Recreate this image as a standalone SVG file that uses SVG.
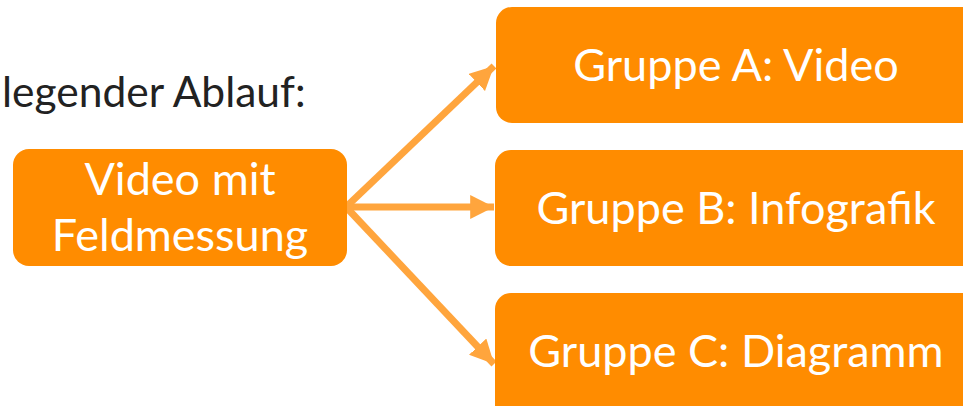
<svg xmlns="http://www.w3.org/2000/svg" width="963" height="406" viewBox="0 0 963 406">
<defs>
<style>
.box{fill:#FF8C00}
.t{font-family:Lato,"Noto Sans","Liberation Sans",sans-serif;font-size:45px;fill:#fff;text-anchor:middle}
.title{font-family:Lato,"Noto Sans","Liberation Sans",sans-serif;font-size:42.5px;fill:#222}
.c{stroke:#FFA53D;stroke-width:7;fill:none}
</style>
<marker id="ah" viewBox="0 0 10 10" refX="10" refY="5" markerWidth="3.4" markerHeight="3.4" orient="auto" markerUnits="strokeWidth">
<path d="M0,0 L10,5 L0,10 Z" fill="#FFA53D"/>
</marker>
</defs>
<rect width="963" height="406" fill="#fff"/>
<text class="title" x="2" y="107">legender Ablauf:</text>
<g id="connectors">
<line class="c" x1="346" y1="207" x2="494" y2="66" marker-end="url(#ah)"/>
<line class="c" x1="346" y1="207" x2="494" y2="207" marker-end="url(#ah)"/>
<line class="c" x1="346" y1="207" x2="494" y2="364" marker-end="url(#ah)"/>
</g>
<g id="n0"><rect class="box" x="13" y="149" width="334" height="117" rx="16"/>
<text class="t" x="180" y="195">Video mit</text><text class="t" x="180" y="251">Feldmessung</text></g>
<g id="nA"><rect class="box" x="496" y="7" width="482" height="116" rx="16"/>
<text class="t" x="736" y="81">Gruppe A: Video</text></g>
<g id="nB"><rect class="box" x="495" y="150" width="482" height="116" rx="16"/>
<text class="t" x="736" y="224">Gruppe B: Infografik</text></g>
<g id="nC"><rect class="box" x="495" y="293" width="482" height="130" rx="16"/>
<text class="t" x="736" y="367">Gruppe C: Diagramm</text></g>
</svg>
